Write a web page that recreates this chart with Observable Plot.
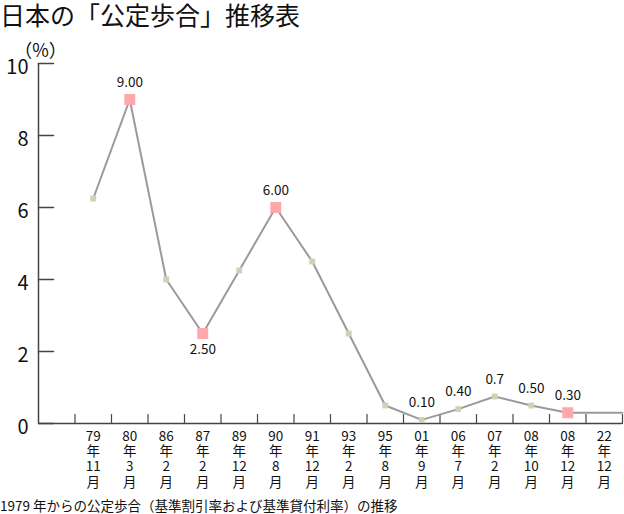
<!DOCTYPE html>
<html>
<head>
<meta charset="utf-8">
<script src="https://cdn.jsdelivr.net/npm/d3@7"></script>
<script src="https://cdn.jsdelivr.net/npm/@observablehq/plot@0.6"></script>
<style>
  body { margin: 0; background: #fff; width: 624px; overflow: hidden; }
  #title { font-family: "Noto Sans CJK JP", sans-serif; font-size: 25px; height: 30px; line-height: 29px; color: #111; white-space: nowrap; }
  #caption { font-family: "Noto Sans CJK JP", sans-serif; font-size: 13.5px; height: 18px; line-height: 18px; color: #111; white-space: nowrap; }
  #chart svg { display: block; overflow: visible; }
</style>
</head>
<body>
<div id="title">日本の「公定歩合」推移表</div>
<div id="chart"></div>
<div id="caption">1979 年からの公定歩合（基準割引率および基準貸付利率）の推移</div>
<script>
// ---- data ----
const years  = ["79", "80", "86", "87", "89", "90", "91", "93", "95", "01", "06", "07", "08", "08", "22"];
const months = ["11", "3",  "2",  "2",  "12", "8",  "12", "2",  "8",  "9",  "7",  "2",  "10", "12", "12"];
const rates  = [6.25, 9.00, 4.00, 2.50, 4.25, 6.00, 4.50, 2.50, 0.50, 0.10, 0.40, 0.75, 0.50, 0.30, 0.30];
const valueLabels = ["", "9.00", "", "2.50", "", "6.00", "", "", "", "0.10", "0.40", "0.7", "0.50", "0.30", ""];
const labelSide   = ["", "above", "", "below", "", "above", "", "", "", "above", "above", "above", "above", "above", ""];
const markerKind  = ["small", "big", "small", "big", "small", "big", "small", "small", "small", "small", "small", "small", "small", "big", "none"];
const yTickValues = [0, 2, 4, 6, 8, 10];
const yUnit = "（%）";

// ---- table ----
const data = years.map((y, i) => ({
  pos: i + 1.5, year: y, month: months[i], rate: rates[i],
  label: valueLabels[i], side: labelSide[i], kind: markerKind[i]
}));
const nBands = years.length + 1;
const boundaries = d3.range(1, nBands + 1);
const linePts = [...data.map(d => ({pos: d.pos, rate: d.rate})), {pos: nBands, rate: rates[rates.length - 1]}];

const numFont = "'Noto Sans CJK JP', sans-serif";
const cjkFont = "'Noto Sans CJK JP', sans-serif";
const axisColor = "#444";

const tickUp = {draw(c, l) { c.moveTo(0, 0); c.lineTo(0, -l); }};

const chart = Plot.plot({
  width: 624,
  height: 466,
  marginTop: 33,
  marginBottom: 73,
  marginLeft: 38,
  marginRight: 2,
  style: {background: "white", fontFamily: cjkFont, color: "#111"},
  x: {domain: [0, nBands], axis: null},
  y: {domain: [0, 10], axis: null},
  marks: [
    // y axis labels
    Plot.axisY(yTickValues, {anchor: "left", tickSize: 0, tickPadding: 10, fontSize: 20, dy: 4, label: null, fontFamily: numFont, fill: "#111"}),
    // axis lines
    Plot.ruleX([0], {stroke: axisColor, strokeWidth: 1.5}),
    Plot.ruleY([0], {stroke: axisColor, strokeWidth: 1.5}),
    // y ticks pointing right
    Plot.vector(yTickValues, {x: 0, y: d => d, length: 15, rotate: 90, anchor: "start", shape: tickUp, stroke: axisColor, strokeWidth: 1.5}),
    // x ticks pointing up at band boundaries
    Plot.vector(boundaries, {x: d => d, y: 0, length: 9, rotate: 0, anchor: "start", shape: tickUp, stroke: axisColor, strokeWidth: 1.2}),
    // x labels stacked vertically
    Plot.text(data, {x: "pos", y: 0, text: d => `${d.year}\n年\n${d.month}\n月`, lineAnchor: "top", dy: 7, fontSize: 13.5, lineHeight: 1.12, fontFamily: numFont, fill: "#111"}),
    // unit
    Plot.text([yUnit], {frameAnchor: "top-left", textAnchor: "middle", dx: 2, dy: -19, fontSize: 18, fill: "#111", fontFamily: cjkFont}),
    // line
    Plot.line(linePts, {x: "pos", y: "rate", stroke: "#9a9a9a", strokeWidth: 2}),
    // markers
    Plot.dot(data.filter(d => d.kind === "small"), {x: "pos", y: "rate", symbol: "square", r: 3.3, fill: "#d4d0b4", stroke: "none"}),
    Plot.dot(data.filter(d => d.kind === "big"), {x: "pos", y: "rate", symbol: "square", r: 6.2, fill: "#ffa8ab", stroke: "none"}),
    // value labels
    Plot.text(data.filter(d => d.side === "above"), {x: "pos", y: "rate", text: "label", dy: -17, fontSize: 13.5, fontFamily: numFont, fill: "#111"}),
    Plot.text(data.filter(d => d.side === "below"), {x: "pos", y: "rate", text: "label", dy: 16, fontSize: 13.5, fontFamily: numFont, fill: "#111"})
  ]
});
document.getElementById("chart").appendChild(chart);
</script>
</body>
</html>
